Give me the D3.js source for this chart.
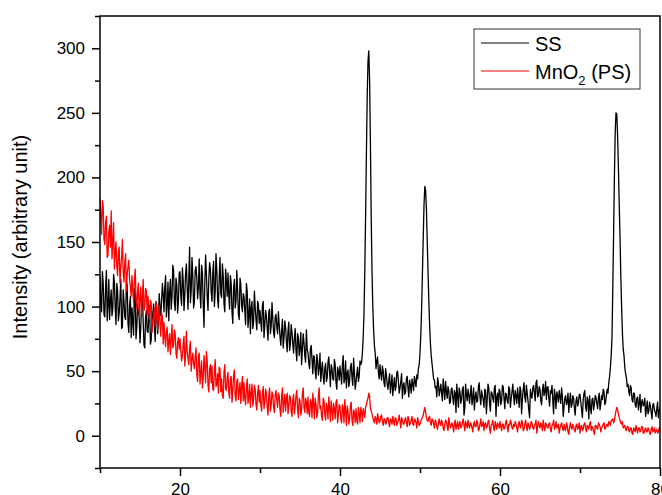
<!DOCTYPE html>
<html>
<head>
<meta charset="utf-8">
<script src="https://cdnjs.cloudflare.com/ajax/libs/d3/7.8.5/d3.min.js"></script>
<style>
    body { margin: 0; background: #fff; }
    svg { display: block; font-family: "Liberation Sans", Arial, sans-serif; }
</style>
</head>
<body>
<svg id="chart" width="662" height="495"></svg>
<script>
// scan starts at 10 deg; readings every 0.1 deg up to 80 deg.
// Each series is kept as two lists: the readings at 10.0, 10.2, 10.4 ...
// and the ones in between at 10.1, 10.3, 10.5 ...
const startAngle = 10;
const angleStep = 0.1;

// SS substrate
const ssCounts = [
    124, 96, 118, 92, 128, 101, 90, 113, 98, 119,      // 10
    86, 112, 95, 121, 84, 104, 90, 116, 80, 108,
    99, 78, 110, 84, 96, 72, 104, 88, 68, 97,          // 14
    80, 101, 74, 95, 86, 104, 79, 110, 93, 118,
    96, 124, 102, 89, 121, 108, 128, 97, 117, 104,     // 18
    127, 101, 120, 109, 133, 98, 146, 112, 124, 104,
    131, 106, 137, 99, 126, 84, 140, 108, 121, 129,    // 22
    104, 135, 112, 128, 99, 138, 107, 124, 96, 120,
    126, 98, 118, 87, 121, 104, 113, 90, 117, 96,      // 26
    108, 86, 112, 93, 79, 104, 88, 99, 82, 102,
    97, 81, 104, 86, 93, 74, 98, 85, 91, 76,           // 30
    94, 79, 86, 70, 90, 76, 84, 65, 88, 71,
    80, 64, 83, 58, 76, 68, 55, 79, 62, 82,            // 34
    64, 52, 70, 48, 61, 44, 58, 53, 42, 57,
    40, 56, 45, 61, 38, 52, 43, 55, 36, 50,            // 38
    54, 40, 62, 44, 37, 51, 42, 56, 39, 49,
    41, 53, 46, 55, 64, 95, 170, 262, 298, 228,        // 42
    128, 82, 64, 58, 49, 55, 43, 50, 38, 47,
    36, 48, 40, 31, 45, 38, 50, 33, 42, 29,            // 46
    41, 34, 46, 30, 39, 44, 35, 42, 47, 52,
    64, 98, 152, 193, 176, 128, 86, 62, 50, 43,        // 50
    38, 45, 31, 40, 27, 36, 42, 29, 35, 26,
    37, 24, 33, 40, 22, 34, 28, 38, 21, 32,            // 54
    36, 25, 39, 29, 20, 34, 27, 41, 24, 31,
    22, 35, 28, 37, 19, 33, 26, 39, 30, 23,            // 58
    34, 27, 38, 21, 32, 25, 36, 29, 40, 24,
    31, 37, 22, 35, 28, 41, 26, 33, 20, 36,            // 62
    29, 39, 27, 43, 31, 36, 24, 40, 34, 28,
    38, 23, 33, 27, 36, 21, 31, 35, 25, 30,            // 66
    22, 31, 26, 18, 33, 24, 29, 16, 30, 25,
    32, 20, 28, 35, 19, 27, 31, 17, 29, 24,            // 70
    30, 21, 33, 25, 28, 34, 26, 36, 41, 53,
    76, 156, 235, 249, 208, 155, 100, 67, 53, 45,      // 74
    40, 31, 37, 26, 33, 22, 30, 25, 18, 28,
    24, 15, 27, 19, 23, 13, 25, 18, 21, 14,            // 78
    22
];
const ssCountsMid = [
    102, 127, 94, 115, 89, 121, 104, 93, 125, 99,      // 10.1
    118, 89, 107, 83, 113, 92, 120, 87, 101, 76,
    88, 114, 75, 102, 91, 84, 109, 70, 92, 81,         // 14.1
    93, 71, 88, 102, 73, 96, 88, 99, 105, 109,
    115, 92, 119, 111, 98, 132, 103, 122, 95, 126,     // 18.1
    108, 130, 97, 126, 114, 121, 103, 138, 99, 128,
    122, 115, 110, 132, 102, 118, 125, 97, 134, 111,   // 22.1
    127, 100, 141, 106, 123, 110, 133, 102, 129, 108,
    109, 124, 96, 115, 99, 128, 94, 122, 101, 110,     // 26.1
    97, 118, 84, 106, 99, 83, 112, 90, 104, 87,
    88, 101, 76, 97, 83, 96, 79, 103, 80, 92,          // 30.1
    84, 96, 77, 81, 68, 89, 73, 81, 66, 86,
    71, 76, 66, 79, 62, 80, 67, 72, 57, 67,            // 34.1
    56, 67, 59, 62, 50, 63, 47, 64, 51, 46,
    52, 42, 57, 49, 55, 44, 59, 41, 53, 43,            // 38.1
    47, 55, 41, 58, 48, 38, 53, 45, 60, 36,
    48, 42, 58, 57, 76, 128, 218, 290, 275, 170,       // 42.1
    100, 70, 52, 61, 44, 48, 54, 41, 52, 40,
    43, 33, 47, 39, 35, 49, 42, 37, 48, 39,            // 46.1
    32, 44, 37, 43, 33, 40, 46, 38, 44, 55,
    78, 125, 178, 190, 152, 105, 72, 56, 44, 37,       // 50.1
    30, 41, 35, 33, 44, 28, 34, 38, 25, 36,
    29, 35, 18, 31, 37, 25, 36, 16, 40, 27,            // 54.1
    31, 33, 24, 37, 30, 26, 38, 30, 35, 28,
    36, 17, 40, 25, 34, 29, 37, 15, 33, 36,            // 58.1
    24, 39, 29, 33, 27, 38, 22, 34, 31, 35,
    25, 30, 38, 17, 36, 30, 39, 27, 14, 31,            // 62.1
    37, 33, 41, 30, 38, 27, 35, 31, 42, 37,
    29, 35, 39, 17, 31, 34, 26, 30, 37, 15,            // 66.1
    29, 24, 33, 27, 22, 31, 21, 27, 23, 32,
    26, 14, 33, 22, 30, 13, 22, 28, 20, 31,            // 70.1
    25, 29, 20, 31, 36, 24, 31, 33, 46, 62,
    115, 200, 250, 232, 180, 124, 80, 62, 48, 38,      // 74.1
    34, 39, 28, 33, 24, 29, 20, 32, 26, 23,
    29, 21, 17, 26, 18, 24, 20, 15, 26, 19             // 78.1
];

// MnO2 (PS) film
const mnoCounts = [
    184, 156, 178, 148, 170, 140, 163, 174, 150, 129,  // 10
    150, 124, 146, 130, 152, 119, 141, 125, 136, 115,
    124, 103, 129, 98, 118, 106, 95, 121, 100, 112,    // 14
    108, 90, 103, 86, 99, 94, 82, 101, 77, 92,
    88, 69, 84, 73, 63, 86, 70, 79, 60, 76,            // 18
    75, 58, 71, 54, 81, 60, 68, 50, 64, 52,
    68, 42, 64, 49, 37, 62, 41, 58, 34, 55,            // 22
    54, 35, 59, 40, 33, 52, 44, 29, 55, 35,
    49, 29, 46, 35, 51, 27, 44, 35, 25, 46,            // 26
    41, 24, 44, 30, 22, 40, 28, 36, 20, 39,
    35, 19, 38, 26, 33, 16, 37, 24, 32, 18,            // 30
    35, 22, 31, 15, 37, 26, 19, 33, 23, 30,
    15, 32, 23, 35, 14, 27, 20, 37, 18, 26,            // 34
    30, 15, 26, 33, 13, 24, 18, 37, 23, 12,
    27, 12, 22, 30, 11, 20, 25, 13, 28, 16,            // 38
    23, 10, 21, 28, 8, 19, 13, 26, 8, 18,
    21, 9, 17, 22, 11, 18, 22, 27, 33, 22,             // 42
    17, 12, 15, 9, 14, 11, 16, 8, 13, 10,
    14, 7, 12, 15, 8, 13, 10, 16, 6, 12,               // 46
    9, 14, 7, 13, 10, 15, 8, 12, 6, 11,
    9, 13, 16, 22, 14, 11, 15, 8, 12, 6,               // 50
    11, 5, 13, 8, 10, 4, 12, 7, 14, 6,
    10, 3, 12, 8, 5, 11, 7, 13, 4, 9,                  // 54
    12, 6, 9, 3, 11, 7, 10, 5, 13, 8,
    4, 10, 7, 12, 2, 9, 6, 11, 5, 8,                   // 58
    11, 4, 9, 6, 12, 3, 8, 10, 5, 7,
    9, 3, 11, 6, 10, 5, 12, 4, 8, 7,                   // 62
    10, 5, 9, 2, 11, 6, 8, 12, 4, 9,
    6, 10, 3, 9, 5, 11, 7, 2, 8, 6,                    // 66
    9, 4, 8, 1, 10, 5, 7, 3, 9, 6,
    2, 8, 5, 10, 3, 7, 9, 4, 6, 1,                     // 70
    8, 5, 9, 3, 7, 10, 6, 9, 11, 8,
    12, 10, 16, 22, 17, 12, 9, 6, 8, 4,                // 74
    7, 3, 6, 1, 5, 8, 2, 6, 4, 7,
    2, 6, 3, 5, 1, 7, 4, 2, 5, 3,                      // 78
    4
];
const mnoCountsMid = [
    171, 182, 152, 165, 138, 158, 146, 137, 165, 143,  // 10.1
    131, 142, 118, 138, 127, 134, 112, 131, 121, 108,
    112, 120, 107, 111, 93, 115, 108, 97, 114, 93,     // 14.1
    96, 105, 80, 93, 85, 102, 90, 86, 95, 71,
    77, 81, 65, 79, 75, 68, 82, 64, 72, 67,            // 18.1
    66, 62, 77, 63, 65, 55, 73, 59, 56, 61,
    47, 61, 40, 58, 44, 53, 65, 39, 52, 41,            // 22.1
    36, 50, 38, 48, 53, 34, 31, 49, 37, 45,
    33, 44, 26, 47, 31, 42, 28, 41, 38, 27,            // 26.1
    29, 37, 25, 40, 33, 23, 39, 24, 33, 26,
    24, 33, 21, 36, 22, 31, 19, 34, 22, 31,            // 30.1
    28, 33, 20, 30, 18, 32, 29, 17, 31, 19,
    28, 17, 31, 20, 29, 16, 33, 22, 29, 17,            // 34.1
    18, 28, 14, 25, 29, 14, 31, 21, 15, 29,
    17, 25, 13, 22, 27, 12, 21, 26, 10, 24,            // 38.1
    13, 24, 10, 19, 23, 9, 23, 12, 20, 10,
    12, 22, 10, 18, 21, 14, 24, 29, 30, 19,            // 42.1
    14, 10, 13, 17, 10, 15, 11, 13, 9, 14,
    10, 13, 9, 11, 14, 8, 12, 11, 14, 9,               // 46.1
    12, 10, 15, 8, 12, 9, 13, 10, 14, 8,
    11, 14, 19, 18, 12, 14, 10, 13, 9, 12,             // 50.1
    7, 10, 9, 12, 6, 9, 11, 4, 10, 8,
    7, 9, 5, 11, 9, 6, 10, 8, 11, 6,                   // 54.1
    8, 10, 6, 9, 7, 12, 4, 9, 7, 11,
    9, 6, 11, 5, 8, 12, 4, 8, 10, 6,                   // 58.1
    7, 9, 5, 10, 7, 9, 12, 6, 9, 11,
    6, 9, 7, 12, 4, 9, 7, 10, 5, 11,                   // 62.1
    6, 8, 12, 7, 8, 10, 4, 7, 10, 6,
    9, 5, 8, 12, 7, 6, 9, 6, 10, 4,                    // 66.1
    5, 10, 3, 7, 6, 9, 4, 8, 5, 10,
    7, 4, 9, 6, 8, 5, 11, 7, 3, 8,                     // 70.1
    6, 10, 7, 6, 9, 5, 8, 7, 10, 12,
    13, 12, 19, 20, 14, 10, 11, 7, 5, 7,               // 74.1
    4, 6, 2, 6, 3, 5, 6, 3, 7, 2,
    5, 3, 6, 2, 5, 3, 6, 4, 2, 6                       // 78.1
];

const xMajorTicks = [20, 40, 60, 80];
const xMinorTicks = [10, 30, 50, 70];
const yMajorTicks = [0, 50, 100, 150, 200, 250, 300];
const yMinorTicks = [-25, 25, 75, 125, 175, 225, 275, 325];
const yLabel = "Intensity (arbitrary unit)";

class XrdChart {
    constructor() {
        this.svg = d3.select("#chart");
        this.left = 100;
        this.right = 660;
        this.top = 16;
        this.bottom = 468;
        this.x = d3.scaleLinear().domain([10, 80]).range([this.left, this.right]);
        this.y = d3.scaleLinear().domain([-25, 325]).range([this.bottom, this.top]);
    }

    // put the two interleaved lists back into scan order
    scan(even, mid) {
        let out = [];
        even.forEach((v, i) => {
            out.push(v);
            if (i < mid.length) out.push(mid[i]);
        });
        return out;
    }

    drawAxes() {
        let svg = this.svg;

        let yAxis = svg.append("g").attr("transform", `translate(${this.left},0)`)
            .call(d3.axisLeft(this.y).tickValues(yMajorTicks).tickSize(8).tickPadding(7));
        let yMinor = svg.append("g").attr("transform", `translate(${this.left},0)`)
            .call(d3.axisLeft(this.y).tickValues(yMinorTicks).tickSize(5).tickFormat(""));

        let xAxis = svg.append("g").attr("transform", `translate(0,${this.bottom})`)
            .call(d3.axisBottom(this.x).tickValues(xMajorTicks).tickSize(8).tickPadding(7));
        let xMinor = svg.append("g").attr("transform", `translate(0,${this.bottom})`)
            .call(d3.axisBottom(this.x).tickValues(xMinorTicks).tickSize(5).tickFormat(""));

        [yAxis, yMinor, xAxis, xMinor].forEach(g => {
            g.select(".domain").remove();
            g.selectAll(".tick line").attr("stroke", "#000").attr("stroke-width", 1.5);
            g.selectAll("text").attr("fill", "#000").style("font-size", "17px");
        });

        // box around the plot
        svg.append("rect")
            .attr("x", this.left).attr("y", this.top)
            .attr("width", this.right - this.left).attr("height", this.bottom - this.top)
            .attr("fill", "none").attr("stroke", "#000").attr("stroke-width", 1.5);

        svg.append("text")
            .attr("transform", `translate(27,${(this.top + this.bottom) / 2 - 5}) rotate(-90)`)
            .attr("text-anchor", "middle")
            .style("font-size", "20px")
            .text(yLabel);
    }

    drawSeries(values, color) {
        let line = d3.line()
            .x((d, i) => this.x(startAngle + i * angleStep))
            .y(d => this.y(d));

        this.plot.append("path")
            .datum(values)
            .attr("fill", "none")
            .attr("stroke", color)
            .attr("stroke-width", 1.3)
            .attr("stroke-linejoin", "round")
            .attr("d", line);
    }

    drawLegend() {
        let g = this.svg.append("g").attr("transform", "translate(474,29)");

        g.append("rect").attr("width", 166).attr("height", 60)
            .attr("fill", "#fff").attr("stroke", "#333").attr("stroke-width", 1);

        g.append("line").attr("x1", 7).attr("x2", 55).attr("y1", 14).attr("y2", 14)
            .attr("stroke", "#000").attr("stroke-width", 1);
        g.append("line").attr("x1", 7).attr("x2", 55).attr("y1", 42).attr("y2", 42)
            .attr("stroke", "#ff0000").attr("stroke-width", 1);

        g.append("text").attr("x", 61).attr("y", 22).style("font-size", "20px").text("SS");

        let t = g.append("text").attr("x", 61).attr("y", 50).style("font-size", "20px");
        t.append("tspan").text("MnO");
        t.append("tspan").attr("dy", 6).style("font-size", "13px").text("2");
        t.append("tspan").attr("dy", -6).text(" (PS)");
    }

    draw() {
        this.svg.append("clipPath").attr("id", "plotClip")
            .append("rect")
            .attr("x", this.left).attr("y", this.top)
            .attr("width", this.right - this.left).attr("height", this.bottom - this.top);

        this.plot = this.svg.append("g").attr("clip-path", "url(#plotClip)");

        this.drawSeries(this.scan(ssCounts, ssCountsMid), "#000");
        this.drawSeries(this.scan(mnoCounts, mnoCountsMid), "#ff0000");
        this.drawAxes();
        this.drawLegend();
    }
}

new XrdChart().draw();
</script>
</body>
</html>
